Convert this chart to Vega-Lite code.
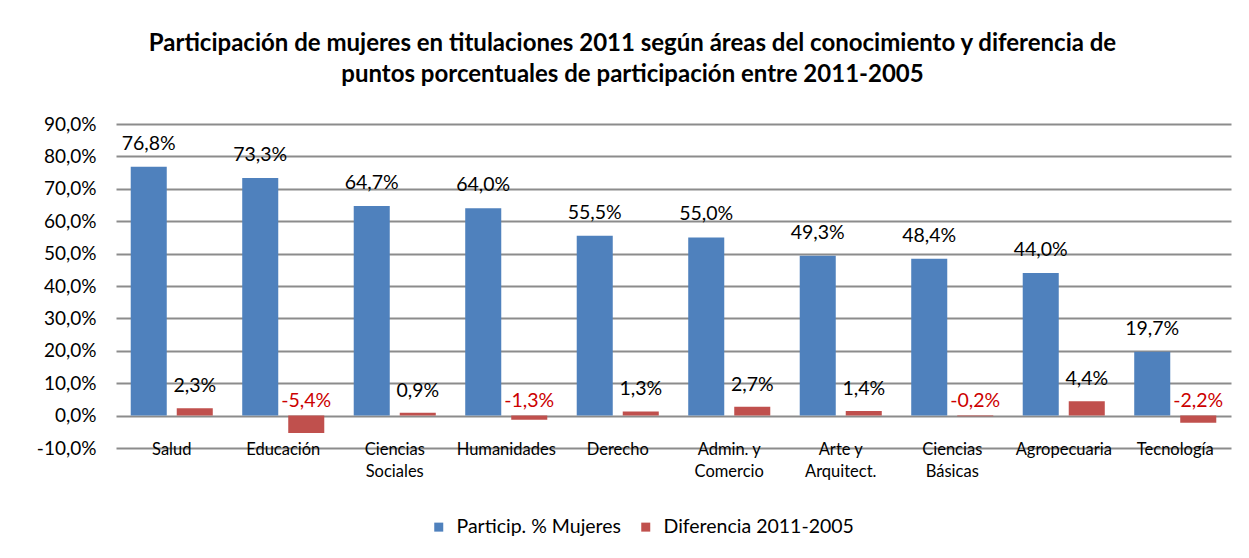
{
  "$schema": "https://vega.github.io/schema/vega-lite/v6.json",
  "width": 1115,
  "height": 324,
  "autosize": {"type": "none"},
  "padding": {"left": 116, "top": 124, "right": 18, "bottom": 110},
  "background": "white",
  "title": {
    "text": ["Participación  de mujeres en titulaciones 2011 según áreas del conocimiento  y diferencia de", "puntos porcentuales de participación  entre 2011-2005"],
    "font": "Lato",
    "fontSize": 24,
    "fontWeight": "bold",
    "color": "#000000",
    "anchor": "middle",
    "frame": "group",
    "dx": -41,
    "offset": 28,
    "lineHeight": 31
  },
  "data": {
    "values": [
      {"area": "Salud", "serie": "Particip. % Mujeres", "valor": 0.768},
      {"area": "Educación", "serie": "Particip. % Mujeres", "valor": 0.733},
      {"area": "Ciencias Sociales", "serie": "Particip. % Mujeres", "valor": 0.647},
      {"area": "Humanidades", "serie": "Particip. % Mujeres", "valor": 0.640},
      {"area": "Derecho", "serie": "Particip. % Mujeres", "valor": 0.555},
      {"area": "Admin. y Comercio", "serie": "Particip. % Mujeres", "valor": 0.550},
      {"area": "Arte y Arquitect.", "serie": "Particip. % Mujeres", "valor": 0.493},
      {"area": "Ciencias Básicas", "serie": "Particip. % Mujeres", "valor": 0.484},
      {"area": "Agropecuaria", "serie": "Particip. % Mujeres", "valor": 0.440},
      {"area": "Tecnología", "serie": "Particip. % Mujeres", "valor": 0.197},
      {"area": "Salud", "serie": "Diferencia 2011-2005", "valor": 0.023},
      {"area": "Educación", "serie": "Diferencia 2011-2005", "valor": -0.054},
      {"area": "Ciencias Sociales", "serie": "Diferencia 2011-2005", "valor": 0.009},
      {"area": "Humanidades", "serie": "Diferencia 2011-2005", "valor": -0.013},
      {"area": "Derecho", "serie": "Diferencia 2011-2005", "valor": 0.013},
      {"area": "Admin. y Comercio", "serie": "Diferencia 2011-2005", "valor": 0.027},
      {"area": "Arte y Arquitect.", "serie": "Diferencia 2011-2005", "valor": 0.014},
      {"area": "Ciencias Básicas", "serie": "Diferencia 2011-2005", "valor": -0.002},
      {"area": "Agropecuaria", "serie": "Diferencia 2011-2005", "valor": 0.044},
      {"area": "Tecnología", "serie": "Diferencia 2011-2005", "valor": -0.022}
    ]
  },
  "encoding": {
    "x": {
      "field": "area",
      "type": "nominal",
      "sort": null,
      "scale": {"paddingInner": 0, "paddingOuter": 0},
      "axis": {
        "title": null,
        "labelAngle": 0,
        "domain": false,
        "ticks": false,
        "labelPadding": -7,
        "labelBaseline": "top",
        "labelFont": "Lato",
        "labelFontSize": 16.5,
        "labelColor": "#000000",
        "labelLineHeight": 22,
        "labelExpr": "lastindexof(datum.value, ' ') > 0 ? [substring(datum.value, 0, lastindexof(datum.value, ' ')), substring(datum.value, lastindexof(datum.value, ' ') + 1)] : datum.value"
      }
    },
    "xOffset": {
      "field": "serie",
      "type": "nominal",
      "sort": ["Particip. % Mujeres", "Diferencia 2011-2005"],
      "scale": {"paddingInner": 0.217, "paddingOuter": 0.32}
    },
    "y": {
      "field": "valor",
      "type": "quantitative",
      "scale": {"domain": [-0.1, 0.9], "nice": false, "zero": false},
      "axis": {
        "title": null,
        "values": [-0.1, 0, 0.1, 0.2, 0.3, 0.4, 0.5, 0.6, 0.7, 0.8, 0.9],
        "format": ".1%",
        "domain": false,
        "ticks": false,
        "labelPadding": 20,
        "labelFont": "Lato",
        "labelFontSize": 19,
        "labelColor": "#000000",
        "grid": true,
        "gridColor": "#8c8c8c",
        "gridWidth": 2
      }
    }
  },
  "layer": [
    {
      "mark": {"type": "bar"},
      "encoding": {
        "color": {
          "field": "serie",
          "type": "nominal",
          "sort": ["Particip. % Mujeres", "Diferencia 2011-2005"],
          "scale": {"domain": ["Particip. % Mujeres", "Diferencia 2011-2005"], "range": ["#4F81BD", "#C0504D"]},
          "legend": {
            "title": null,
            "orient": "none",
            "direction": "horizontal",
            "legendX": 313,
            "legendY": 393,
            "symbolType": "square",
            "symbolSize": 81,
            "symbolStrokeWidth": 0,
            "labelFont": "Lato",
            "labelFontSize": 19.5,
            "labelColor": "#000000",
            "labelOffset": 8,
            "columnPadding": 14,
            "labelLimit": 300
          }
        }
      }
    },
    {
      "transform": [{"filter": "datum.serie == 'Particip. % Mujeres'"}],
      "mark": {"type": "text", "baseline": "alphabetic", "dy": -17, "font": "Lato", "fontSize": 19.5, "color": "#000000"},
      "encoding": {"text": {"field": "valor", "type": "quantitative", "format": ".1%"}}
    },
    {
      "transform": [{"filter": "datum.serie == 'Diferencia 2011-2005' && datum.valor >= 0"}],
      "mark": {"type": "text", "baseline": "alphabetic", "dy": -16, "font": "Lato", "fontSize": 19.5, "color": "#000000"},
      "encoding": {"text": {"field": "valor", "type": "quantitative", "format": ".1%"}}
    },
    {
      "transform": [{"filter": "datum.serie == 'Diferencia 2011-2005' && datum.valor < 0"}],
      "mark": {"type": "text", "baseline": "alphabetic", "dy": -9, "font": "Lato", "fontSize": 19.5, "color": "#CC0000"},
      "encoding": {
        "y": {"datum": 0, "type": "quantitative"},
        "text": {"field": "valor", "type": "quantitative", "format": ".1%"}
      }
    }
  ],
  "config": {
    "view": {"stroke": null},
    "locale": {"number": {"decimal": ",", "thousands": ".", "grouping": [3], "currency": ["", " €"], "minus": "-"}}
  }
}
